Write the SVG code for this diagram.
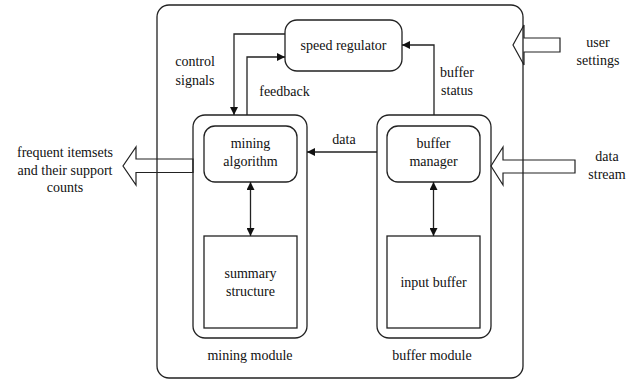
<svg xmlns="http://www.w3.org/2000/svg" width="639" height="381" viewBox="0 0 639 381" font-family="'Liberation Serif', 'Times New Roman', 'DejaVu Serif', serif">
<style>
.box{fill:none;stroke:#222;stroke-width:1.3}
.ln{fill:none;stroke:#222;stroke-width:1.3}
.blk{fill:none;stroke:#222;stroke-width:1.2}
.t{font-family:'Liberation Serif','Times New Roman','DejaVu Serif',serif;font-size:14px;fill:#111;text-anchor:middle}
</style>
<defs>
<marker id="ah" viewBox="0 0 10 10" refX="10" refY="5" markerWidth="8" markerHeight="8" markerUnits="userSpaceOnUse" orient="auto-start-reverse">
<path d="M0,0 L10,5 L0,10 z" fill="#111"/>
</marker>
</defs>
<rect width="639" height="381" fill="#fff"/>
<g id="system">
<rect class="box" x="157" y="5" width="366" height="373" rx="12"/>
</g>
<g id="speed-regulator">
<rect class="box" x="285" y="20" width="117" height="51" rx="12"/>
<text class="t" x="343.5" y="50">speed regulator</text>
</g>
<g id="mining-module">
<rect class="box" x="193" y="115" width="114" height="223" rx="12"/>
<text class="t" x="250" y="360">mining module</text>
</g>
<g id="mining-algorithm">
<rect class="box" x="204" y="126" width="93" height="56" rx="11"/>
<text class="t" x="250.5" y="148">mining</text>
<text class="t" x="250.5" y="166">algorithm</text>
</g>
<g id="summary-structure">
<rect class="box" x="204" y="236" width="93" height="92"/>
<text class="t" x="250.5" y="278">summary</text>
<text class="t" x="250.5" y="296">structure</text>
</g>
<g id="buffer-module">
<rect class="box" x="377" y="115" width="114" height="223" rx="12"/>
<text class="t" x="432" y="360">buffer module</text>
</g>
<g id="buffer-manager">
<rect class="box" x="387" y="126" width="93" height="56" rx="11"/>
<text class="t" x="433.5" y="148">buffer</text>
<text class="t" x="433.5" y="166">manager</text>
</g>
<g id="input-buffer">
<rect class="box" x="387" y="236" width="93" height="92"/>
<text class="t" x="433.5" y="287">input buffer</text>
</g>
<g id="connectors">
<polyline class="ln" points="285,34 234,34 234,115" marker-end="url(#ah)"/>
<polyline class="ln" points="247,115 247,57 285,57" marker-end="url(#ah)"/>
<polyline class="ln" points="434,115 434,45 402,45" marker-end="url(#ah)"/>
<line class="ln" x1="377" y1="152" x2="307" y2="152" marker-end="url(#ah)"/>
<line class="ln" x1="250.5" y1="182" x2="250.5" y2="236" marker-start="url(#ah)" marker-end="url(#ah)"/>
<line class="ln" x1="433.5" y1="182" x2="433.5" y2="236" marker-start="url(#ah)" marker-end="url(#ah)"/>
<polygon class="blk" points="193,159 136,159 136,147 123,166 136,185 136,172.5 193,172.5"/>
<polygon class="blk" points="560,38 524,38 524,25 513,45 524,65 524,52 560,52"/>
<polygon class="blk" points="575,160 503,160 503,147 491,166 503,185 503,173 575,173"/>
</g>
<g id="labels">
<text class="t" x="195" y="66">control</text>
<text class="t" x="195" y="85">signals</text>
<text class="t" x="284.5" y="96">feedback</text>
<text class="t" x="457" y="77">buffer</text>
<text class="t" x="457" y="95">status</text>
<text class="t" x="344" y="144">data</text>
<text class="t" x="65" y="157">frequent itemsets</text>
<text class="t" x="65" y="175">and their support</text>
<text class="t" x="65" y="192">counts</text>
<text class="t" x="598" y="47">user</text>
<text class="t" x="598" y="65">settings</text>
<text class="t" x="607" y="161">data</text>
<text class="t" x="607" y="179">stream</text>
</g>
</svg>
